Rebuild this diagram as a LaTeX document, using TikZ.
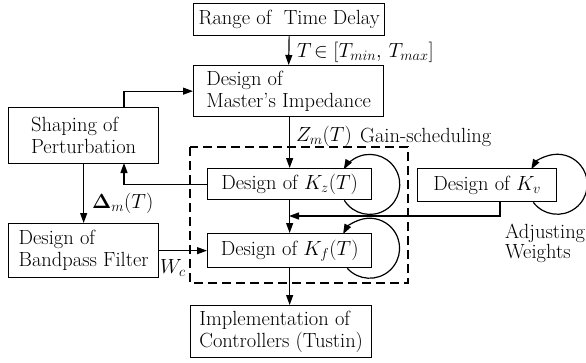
\documentclass[tikz,border=0pt]{standalone}
\usepackage{fix-cm}
\usepackage[no-math]{fontspec}
\usetikzlibrary{arrows.meta}
\begin{document}
\begin{tikzpicture}[x=1pt,y=1pt,
  every node/.style={font=\fontsize{20.5}{22}\selectfont},
  box/.style={draw,line width=1.3pt,anchor=north west,inner sep=0pt,align=left},
  lbl/.style={anchor=base west,inner sep=0pt},
  arr/.style={line width=1.2pt,-{Triangle[length=10pt,width=7pt]}},
  dashbox/.style={draw,line width=1.1pt,dash pattern=on 9pt off 5pt}]
\useasboundingbox (0,0) rectangle (586,-362);

% blocks of the design flow
\node[box,minimum width=191pt,minimum height=32pt,align=center] (range) at (193,-3) {Range of\ \ Time Delay};
\node[box,minimum width=190pt,minimum height=51pt] (master) at (193,-65) {Design of\\Master's Impedance};
\node[box,minimum width=150pt,minimum height=56pt] (shaping) at (8,-107) {Shaping of\\Perturbation};
\node[box,minimum width=150pt,minimum height=54pt] (bandpass) at (8,-223) {Design of\\Bandpass Filter};
\node[box,minimum width=164pt,minimum height=31pt] (kz) at (207,-168) {Design of $K_z(T)$};
\node[box,minimum width=164pt,minimum height=34pt] (kf) at (207,-233) {Design of $K_f(T)$};
\node[box,minimum width=139pt,minimum height=33pt] (kv) at (417,-168) {Design of $K_v$};
\node[box,minimum width=181pt,minimum height=52pt] (impl) at (190,-305) {Implementation of\\Controllers (Tustin)};

% gain-scheduling group
\draw[dashbox] (190,-147) rectangle (408,-283);

% labels
\node[lbl] (tlbl) at (297,-57) {$T\!\in[T_{min},\,T_{max}]$};
\node[lbl] (zlbl) at (296,-141) {$Z_m(T)$};
\node[lbl] (gain) at (360,-142) {Gain-scheduling};
\node[lbl] (dlbl) at (92,-208) {$\mathbf{\Delta}_m(T)$};
\node[lbl] (wlbl) at (160,-273) {$W_c$};
\node[lbl,align=left,font=\fontsize{20.5}{20}\selectfont] (adj) at (505,-258) {Adjusting\\Weights};

% helper points
\coordinate (s1) at (124,-107);
\coordinate (s2) at (124,-163);
\coordinate (kvb) at (500,-201);
\coordinate (jn) at (289,-216);

% connectors
\draw[arr] (range.south) -- (master.north);
\draw[arr] (master.south -| kz.north) -- (kz.north);
\draw[arr] (s1) |- (master.west);
\draw[arr] (kz.west) -| (s2);
\draw[arr] (shaping.south) -- (bandpass.north);
\draw[arr] (bandpass.east) -- (kf.west);
\draw[arr] (kz.south) -- (kf.north);
\draw[arr] (kvb) |- (jn);
\draw[arr] (kf.south) -- (kf.south |- impl.north);

% self loops
\draw[arr] ([xshift=-28pt]kz.south east) arc[start angle=-148,end angle=150,radius=30pt];
\draw[arr] ([xshift=-25pt]kf.south east) arc[start angle=-138,end angle=152,radius=30pt];
\draw[arr] ([xshift=-24pt]kv.south east) arc[start angle=-143,end angle=150,radius=30pt];
\end{tikzpicture}
\end{document}
